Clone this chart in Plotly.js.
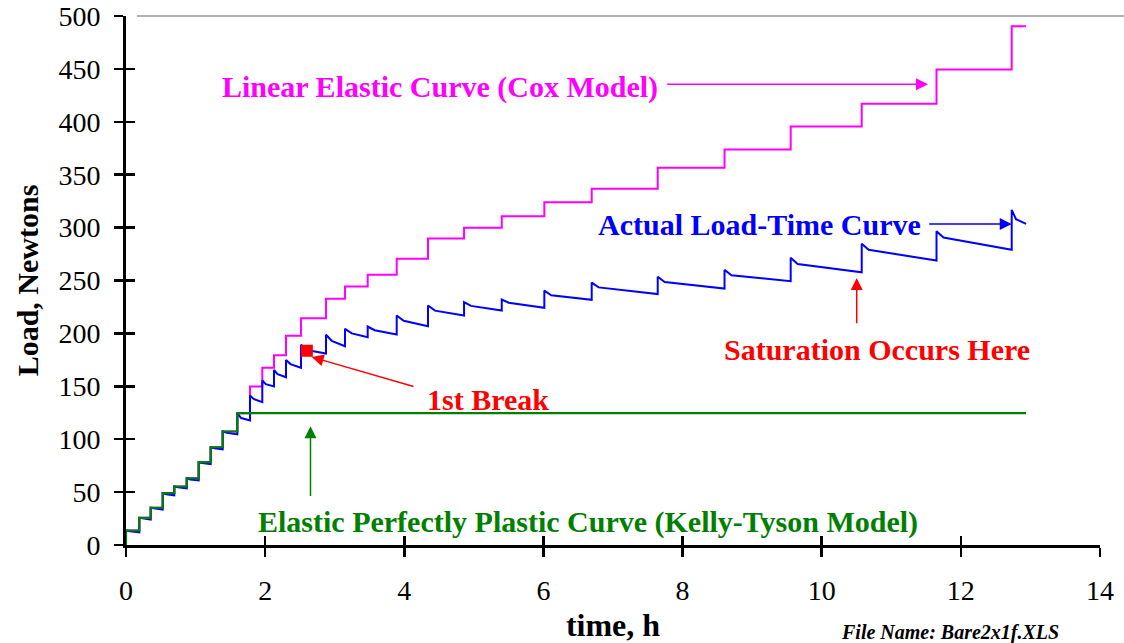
<!DOCTYPE html>
<html>
<head>
<meta charset="utf-8">
<script src="https://cdn.plot.ly/plotly-3.0.1.min.js"></script>
<style>html,body{margin:0;padding:0;background:#fff;}#chart{width:1124px;height:643px;}</style>
</head>
<body>
<div id="chart"></div>
<script>
// ---- data ----
const stepTime = [0.00, 0.191, 0.355, 0.528, 0.694, 0.873, 1.045, 1.217, 1.390, 1.600, 1.782, 1.959, 2.127, 2.300, 2.515, 2.875, 3.148, 3.474, 3.891, 4.341, 4.859, 5.401, 6.013, 6.694, 7.643, 8.603, 9.554, 10.575, 11.650, 12.731];
const endTime = 12.937;
const coxLoad = [13.7, 25.7, 35.2, 49, 55.3, 63.1, 78.3, 92.4, 107.3, 124.6, 149.8, 167.5, 179.4, 197.7, 214.4, 232.7, 244.3, 255.4, 270.5, 289.7, 299.8, 310.8, 324, 336.7, 356.5, 373.8, 395.6, 417, 449.4, 490.4];
const actualPeak = [13.7, 25.7, 35.2, 49, 55.3, 63.1, 78.3, 92.4, 107.3, 124.6, 141.3, 155.5, 165.4, 174.8, 189.2, 198.7, 204.3, 206.5, 216.9, 226.4, 229.5, 232, 240.5, 248, 253.5, 260, 271.5, 284.7, 296.6, 316.8];
const actualRelax = [13, 25, 34.5, 48, 54.5, 62, 77.5, 91.5, 106, 120, 138, 152, 161.5, 171, 184, 193, 200, 203, 212, 221.5, 226, 229, 236, 243.5, 248.5, 255, 265.5, 279, 290.6, 308];
const actualEnd = [12, 24, 33.5, 47, 53.5, 61, 76.5, 90.5, 104.5, 117.7, 135, 149.8, 158.6, 167.5, 181, 187.9, 196.4, 199, 206.8, 216.9, 221.6, 224.2, 231.8, 237.2, 242.4, 249.3, 257.8, 268.9, 279, 303.6];
const ktTime = [0.00, 0.191, 0.355, 0.528, 0.694, 0.873, 1.045, 1.217, 1.390, 1.600, 12.937];
const ktLoad = [13.7, 25.7, 35.2, 49, 55.3, 63.1, 78.3, 92.4, 107.3, 124.6, 124.6];
const breakTime = [2.600];
const breakLoad = [183.6];
const xTicks = [0, 2, 4, 6, 8, 10, 12, 14];
const yTicks = [0, 50, 100, 150, 200, 250, 300, 350, 400, 450, 500];

// ---- build traces ----
const coxX = [0].concat(stepTime, [endTime]);
const coxY = [0].concat(coxLoad, [coxLoad[coxLoad.length - 1]]);

const actX = [0], actY = [0];
for (let i = 0; i < stepTime.length; i++) {
  const next = i < stepTime.length - 1 ? stepTime[i + 1] : endTime;
  const dt = Math.min(0.1, (next - stepTime[i]) * 0.3);
  actX.push(stepTime[i]); actY.push(actualPeak[i]);
  actX.push(stepTime[i] + dt); actY.push(actualRelax[i]);
  actX.push(next); actY.push(actualEnd[i]);
}

const SERIF = '"Liberation Serif", "Times New Roman", serif';
const MAG = '#FF00FF', BLUE = '#0000FF', GREEN = '#008000', RED = '#FF0000';

const traces = [
  {x: coxX, y: coxY, mode: 'lines', line: {color: MAG, width: 2, shape: 'hv'}, name: 'Linear Elastic Curve (Cox Model)'},
  {x: actX, y: actY, mode: 'lines', line: {color: BLUE, width: 2}, name: 'Actual Load-Time Curve'},
  {x: [0].concat(ktTime), y: [0].concat(ktLoad), mode: 'lines', line: {color: GREEN, width: 2.2, shape: 'hv'}, name: 'Elastic Perfectly Plastic Curve (Kelly-Tyson Model)'},
  {x: breakTime, y: breakLoad, mode: 'markers', marker: {symbol: 'square', size: 12, color: RED}, name: '1st Break'},
  {x: [0], y: [0], xaxis: 'x2', yaxis: 'y2', mode: 'markers', marker: {size: 0.1, color: 'rgba(0,0,0,0)'}, hoverinfo: 'skip', showlegend: false}
];

// pixel helpers for annotation placement
const X0 = 126, XK = 69.57, Y0 = 545.5, YK = 1.059;
const px2x = p => (p - X0) / XK;
const px2y = p => (Y0 - p) / YK;

function label(text, cx, cy, color, size) {
  return {x: px2x(cx), y: px2y(cy), xref: 'x', yref: 'y', text: text, showarrow: false,
    xanchor: 'center', yanchor: 'middle', font: {family: SERIF, size: size || 30, color: color, weight: 'bold'}};
}
function arrow(tipX, tipY, tailX, tailY, color) {
  return {x: px2x(tipX), y: px2y(tipY), xref: 'x', yref: 'y', text: '', showarrow: true,
    ax: tailX - tipX, ay: tailY - tipY, axref: 'pixel', ayref: 'pixel',
    arrowhead: 2, arrowsize: 1.6, arrowwidth: 1.5, arrowcolor: color, standoff: 0, startstandoff: 0};
}

const annotations = [
  label('Linear Elastic Curve (Cox Model)', 440, 87, MAG),
  arrow(928, 84.3, 665.7, 84.3, MAG),
  label('Actual Load-Time Curve', 759, 225, BLUE),
  arrow(1011.7, 224.3, 927.7, 224.3, BLUE),
  label('Saturation Occurs Here', 877, 350, RED),
  arrow(856.7, 278.3, 856.7, 325, RED),
  label('1st Break', 488, 400, RED),
  arrow(311.7, 357.3, 415, 387.3, RED),
  label('Elastic Perfectly Plastic Curve (Kelly-Tyson Model)', 588, 522, GREEN),
  arrow(310.5, 426.7, 310.5, 498, GREEN),
  {xref: 'paper', yref: 'paper', x: (950 - X0) / 974, y: (Y0 - 633) / 529.5, text: 'File Name: Bare2x1f.XLS', showarrow: false,
   xanchor: 'center', yanchor: 'middle', font: {family: SERIF, size: 20, color: '#000', weight: 'bold', style: 'italic'}}
];

const axisCommon = {
  showgrid: false, zeroline: false, showline: true, linecolor: '#000', linewidth: 3,
  ticks: 'outside', ticklen: 9, tickwidth: 2.5, tickcolor: '#000',
  tickfont: {family: SERIF, size: 28, color: '#000'}
};

const layout = {
  width: 1124, height: 643,
  margin: {l: 126, r: 24, t: 16, b: 97.5},
  paper_bgcolor: '#fff', plot_bgcolor: 'rgba(0,0,0,0)',
  showlegend: false,
  font: {family: SERIF, color: '#000'},
  xaxis: Object.assign({}, axisCommon, {range: [0, 14], tickmode: 'array', tickvals: xTicks, ticktext: xTicks.map(String),
    ticklabelstandoff: 9,
    title: {text: 'time, h', font: {family: SERIF, size: 32, color: '#000', weight: 'bold'}, standoff: 20}}),
  yaxis: Object.assign({}, axisCommon, {range: [0, 500], tickmode: 'array', tickvals: yTicks, ticktext: yTicks.map(String),
    ticklabelstandoff: 8,
    title: {text: 'Load, Newtons', font: {family: SERIF, size: 30, color: '#000', weight: 'bold'}, standoff: 11}}),
  xaxis2: {overlaying: 'x', anchor: 'y2', range: [0, 14], tickmode: 'array', tickvals: xTicks, ticks: 'inside', ticklen: 9, tickwidth: 2.5,
    tickcolor: '#000', showticklabels: false, showline: false, showgrid: false, zeroline: false},
  yaxis2: {overlaying: 'y', anchor: 'x2', range: [0, 500], tickmode: 'array', tickvals: yTicks, ticks: 'inside', ticklen: 9, tickwidth: 2.5,
    tickcolor: '#000', showticklabels: false, showline: false, showgrid: false, zeroline: false},
  shapes: [
    {type: 'line', xref: 'paper', yref: 'paper', x0: (137 - X0) / 974, x1: (1124 - X0) / 974, y0: 1, y1: 1,
     line: {color: '#999', width: 1.5}}
  ],
  annotations: annotations
};

Plotly.newPlot('chart', traces, layout, {displayModeBar: false, staticPlot: true});
</script>
</body>
</html>
